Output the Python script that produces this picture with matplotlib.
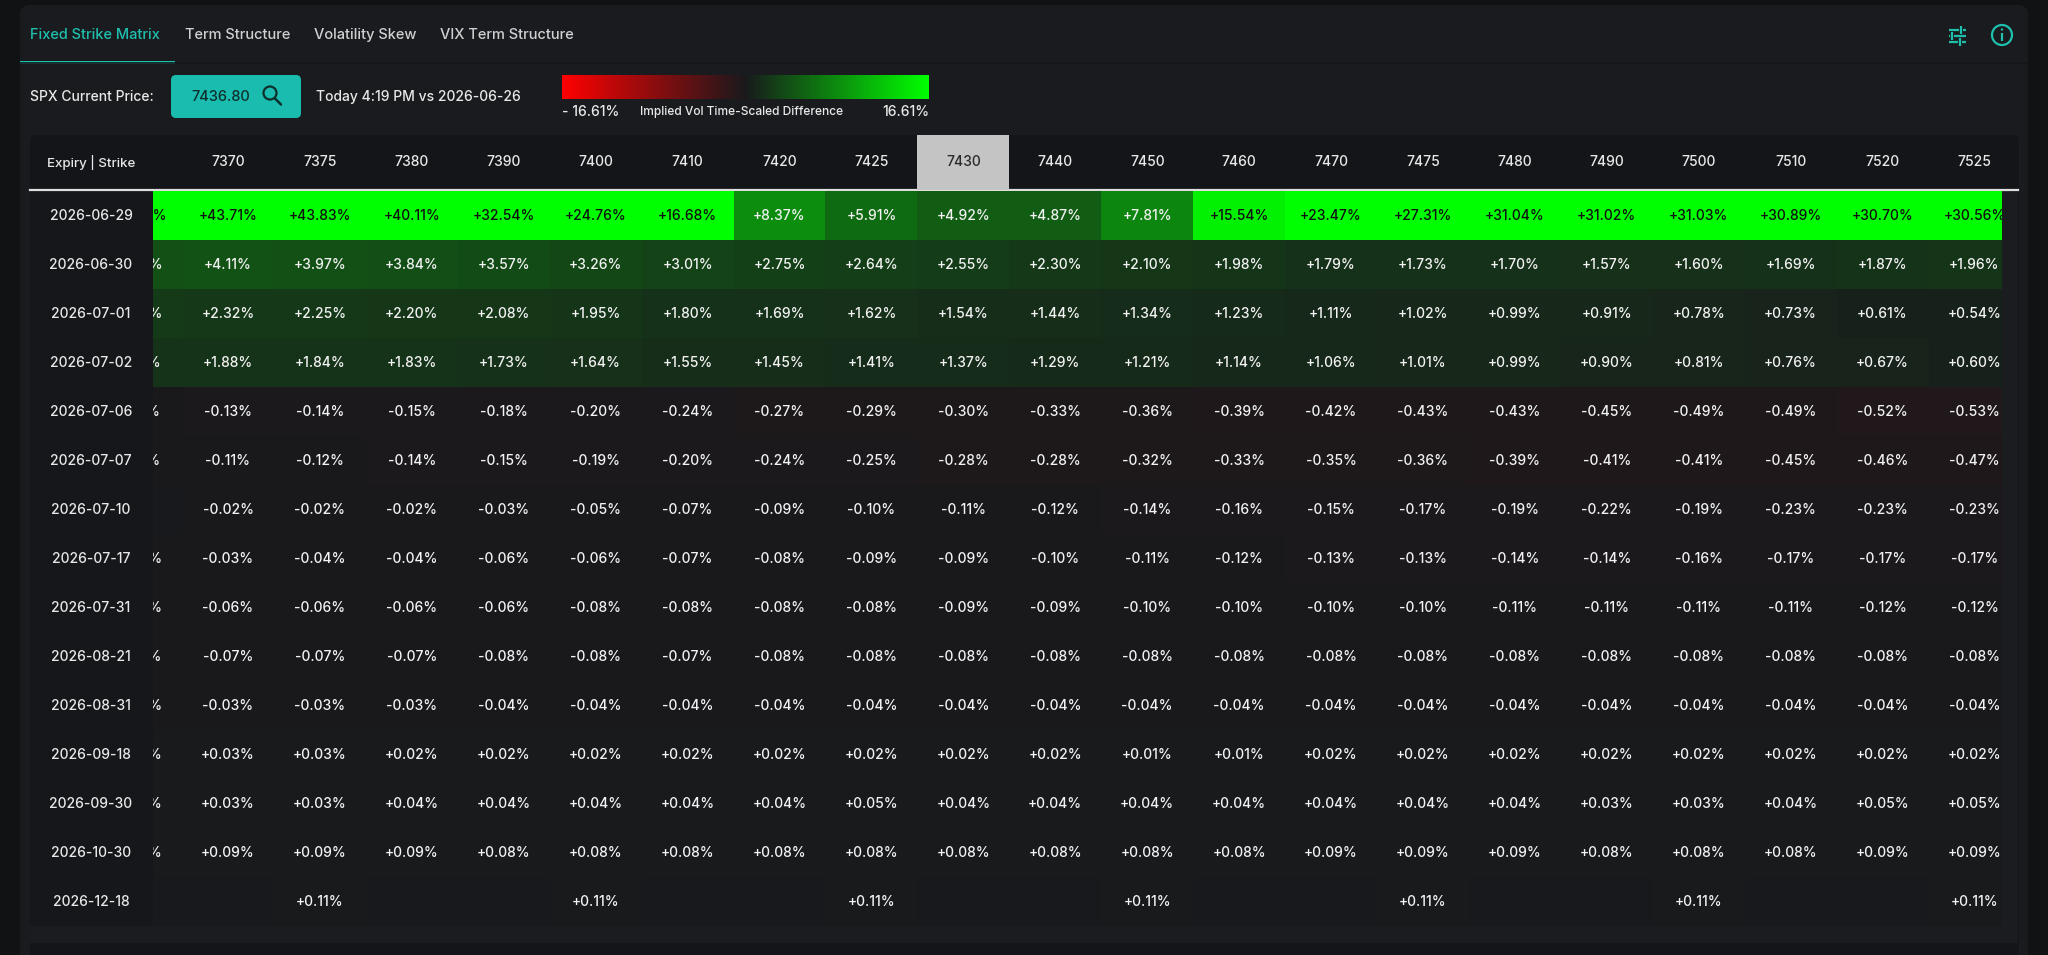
import matplotlib
matplotlib.use("Agg")
import matplotlib.pyplot as plt
import matplotlib.colorbar as mcolorbar
import matplotlib.transforms as mtransforms
import numpy as np
from matplotlib.colors import LinearSegmentedColormap, Normalize
from matplotlib.patches import FancyBboxPatch, Rectangle, Circle

plt.rcParams["font.family"] = ["Inter", "DejaVu Sans"]
plt.rcParams["font.weight"] = 500

W, H = 2048, 955

TABS = ["Fixed Strike Matrix", "Term Structure", "Volatility Skew", "VIX Term Structure"]
SPX_PRICE = "7436.80"
COMPARE_TEXT = "Today 4:19 PM vs 2026-06-26"
SCALE_MAX = 16.61
ATM_STRIKE = 7430

# first strike is scrolled almost out of view behind the sticky expiry column
STRIKES = [7365, 7370, 7375, 7380, 7390, 7400, 7410, 7420, 7425, 7430, 7440,
           7450, 7460, 7470, 7475, 7480, 7490, 7500, 7510, 7520, 7525]

EXPIRIES = ["2026-06-29", "2026-06-30", "2026-07-01", "2026-07-02", "2026-07-06",
            "2026-07-07", "2026-07-10", "2026-07-17", "2026-07-31", "2026-08-21",
            "2026-08-31", "2026-09-18", "2026-09-30", "2026-10-30", "2026-12-18"]

nan = np.nan
d_0629 = [43.53, 43.71, 43.83, 40.11, 32.54, 24.76, 16.68, 8.37, 5.91, 4.92, 4.87,
          7.81, 15.54, 23.47, 27.31, 31.04, 31.02, 31.03, 30.89, 30.70, 30.56]
d_0630 = [3.90, 4.11, 3.97, 3.84, 3.57, 3.26, 3.01, 2.75, 2.64, 2.55, 2.30,
          2.10, 1.98, 1.79, 1.73, 1.70, 1.57, 1.60, 1.69, 1.87, 1.96]
d_0701 = [2.36, 2.32, 2.25, 2.20, 2.08, 1.95, 1.80, 1.69, 1.62, 1.54, 1.44,
          1.34, 1.23, 1.11, 1.02, 0.99, 0.91, 0.78, 0.73, 0.61, 0.54]
d_0702 = [1.90, 1.88, 1.84, 1.83, 1.73, 1.64, 1.55, 1.45, 1.41, 1.37, 1.29,
          1.21, 1.14, 1.06, 1.01, 0.99, 0.90, 0.81, 0.76, 0.67, 0.60]
d_0706 = [-0.12, -0.13, -0.14, -0.15, -0.18, -0.20, -0.24, -0.27, -0.29, -0.30, -0.33,
          -0.36, -0.39, -0.42, -0.43, -0.43, -0.45, -0.49, -0.49, -0.52, -0.53]
d_0707 = [-0.10, -0.11, -0.12, -0.14, -0.15, -0.19, -0.20, -0.24, -0.25, -0.28, -0.28,
          -0.32, -0.33, -0.35, -0.36, -0.39, -0.41, -0.41, -0.45, -0.46, -0.47]
d_0710 = [nan, -0.02, -0.02, -0.02, -0.03, -0.05, -0.07, -0.09, -0.10, -0.11, -0.12,
          -0.14, -0.16, -0.15, -0.17, -0.19, -0.22, -0.19, -0.23, -0.23, -0.23]
d_0717 = [-0.03, -0.03, -0.04, -0.04, -0.06, -0.06, -0.07, -0.08, -0.09, -0.09, -0.10,
          -0.11, -0.12, -0.13, -0.13, -0.14, -0.14, -0.16, -0.17, -0.17, -0.17]
d_0731 = [-0.05, -0.06, -0.06, -0.06, -0.06, -0.08, -0.08, -0.08, -0.08, -0.09, -0.09,
          -0.10, -0.10, -0.10, -0.10, -0.11, -0.11, -0.11, -0.11, -0.12, -0.12]
d_0821 = [-0.07, -0.07, -0.07, -0.07, -0.08, -0.08, -0.07, -0.08, -0.08, -0.08, -0.08,
          -0.08, -0.08, -0.08, -0.08, -0.08, -0.08, -0.08, -0.08, -0.08, -0.08]
d_0831 = [-0.03, -0.03, -0.03, -0.03, -0.04, -0.04, -0.04, -0.04, -0.04, -0.04, -0.04,
          -0.04, -0.04, -0.04, -0.04, -0.04, -0.04, -0.04, -0.04, -0.04, -0.04]
d_0918 = [0.03, 0.03, 0.03, 0.02, 0.02, 0.02, 0.02, 0.02, 0.02, 0.02, 0.02,
          0.01, 0.01, 0.02, 0.02, 0.02, 0.02, 0.02, 0.02, 0.02, 0.02]
d_0930 = [0.03, 0.03, 0.03, 0.04, 0.04, 0.04, 0.04, 0.04, 0.05, 0.04, 0.04,
          0.04, 0.04, 0.04, 0.04, 0.04, 0.03, 0.03, 0.04, 0.05, 0.05]
d_1030 = [0.09, 0.09, 0.09, 0.09, 0.08, 0.08, 0.08, 0.08, 0.08, 0.08, 0.08,
          0.08, 0.08, 0.09, 0.09, 0.09, 0.08, 0.08, 0.08, 0.09, 0.09]
d_1218 = [nan, nan, 0.11, nan, nan, 0.11, nan, nan, 0.11, nan, nan,
          0.11, nan, nan, 0.11, nan, nan, 0.11, nan, nan, 0.11]

ROWS = [d_0629, d_0630, d_0701, d_0702, d_0706, d_0707, d_0710, d_0717,
        d_0731, d_0821, d_0831, d_0918, d_0930, d_1030, d_1218]

OUTER = "#111214"
PANEL = "#1a1b1e"
TABLE_BG = "#141518"
BODY_BG = "#18191c"
STICKY_BG = "#16171a"
TEAL = "#1fbfae"
TEXT = "#e8e8e8"
MUTED = "#cfd0d2"

values = np.array(ROWS, dtype=float)
cmap = LinearSegmentedColormap.from_list("ivdiff", ["#ff0000", BODY_BG, "#00ff00"])
cmap.set_bad(BODY_BG)
norm = Normalize(-SCALE_MAX, SCALE_MAX, clip=True)

fig = plt.figure(figsize=(W / 100, H / 100), dpi=100, facecolor=OUTER)

# chrome layer in pixel coordinates
bg = fig.add_axes([0, 0, 1, 1])
bg.set_xlim(0, W)
bg.set_ylim(H, 0)
bg.axis("off")

bg.add_patch(FancyBboxPatch((20, 5), 2008, 970, boxstyle="round,pad=0,rounding_size=10",
                            fc=PANEL, ec="none"))
bg.plot([20, 2028], [63.5, 63.5], color="#141518", lw=1.2)

tab_x = [30, 185, 314, 440]
for i, (label, x) in enumerate(zip(TABS, tab_x)):
    bg.text(x, 35, label, color=TEAL if i == 0 else MUTED, fontsize=10.5,
            ha="left", va="center")
bg.add_patch(Rectangle((20, 61), 155, 3, fc=TEAL, ec="none"))

# sliders icon
for yy, knob in [(30, 1961), (36, 1952), (42, 1960)]:
    bg.plot([1949, knob - 2], [yy, yy], color=TEAL, lw=1.6, solid_capstyle="butt")
    bg.plot([knob + 2, 1966], [yy, yy], color=TEAL, lw=1.6, solid_capstyle="butt")
    bg.plot([knob, knob], [yy - 4, yy + 4], color=TEAL, lw=1.6, solid_capstyle="butt")
# info icon
bg.add_patch(Circle((2002, 35), 10, fc="none", ec=TEAL, lw=1.6))
bg.plot([2002, 2002], [33, 41], color=TEAL, lw=1.6, solid_capstyle="butt")
bg.add_patch(Circle((2002, 29.5), 1.2, fc=TEAL, ec="none"))

# controls row
bg.text(30, 97, "SPX Current Price:", color=TEXT, fontsize=10, ha="left", va="center")
bg.add_patch(FancyBboxPatch((171, 75), 130, 43, boxstyle="round,pad=0,rounding_size=5",
                            fc="#19bcae", ec="none"))
bg.text(221, 97, SPX_PRICE, color="#0f2f2d", fontsize=10.5, ha="center", va="center")
bg.add_patch(Circle((270, 93), 6.5, fc="none", ec="#0f2f2d", lw=1.6))
bg.plot([275, 281], [98.5, 104.5], color="#0f2f2d", lw=1.8, solid_capstyle="round")
bg.text(316, 97, COMPARE_TEXT, color=TEXT, fontsize=10, ha="left", va="center")

cax = fig.add_axes([562 / W, 1 - 99 / H, 367 / W, 24 / H])
cb = mcolorbar.ColorbarBase(cax, cmap=cmap, norm=norm, orientation="horizontal")
cb.outline.set_visible(False)
cax.set_xticks([])
cax.set_yticks([])
bg.text(562, 112, f"- {SCALE_MAX:.2f}%", color=TEXT, fontsize=10, ha="left", va="center")
bg.text(640, 112, "Implied Vol Time-Scaled Difference", color=TEXT, fontsize=8.6,
        ha="left", va="center")
bg.text(929, 112, f"{SCALE_MAX:.2f}%", color=TEXT, fontsize=10, ha="right", va="center")

# table container
bg.add_patch(FancyBboxPatch((30, 135), 1989, 830, boxstyle="round,pad=0,rounding_size=6",
                            fc=TABLE_BG, ec="none"))
bg.add_patch(Rectangle((30, 190), 123, 736, fc=STICKY_BG, ec="none"))
bg.add_patch(Rectangle((30, 926), 1988, 17, fc="#1b1c20", ec="none"))
bg.add_patch(Rectangle((2002, 190), 16, 753, fc="#1b1c20", ec="none"))
bg.text(91, 162.5, "Expiry | Strike", color=TEXT, fontsize=9.6, ha="center", va="center")
bg.plot([30, 2018], [190.5, 190.5], color="#dedede", lw=1.6)

# column geometry: column j centred on x=j, 91.92 px wide, strike 7370 at px 228
col_w = 91.92
x_left = (153 - (228 - col_w)) / col_w
x_right = (2002 - (228 - col_w)) / col_w
cols = np.arange(len(STRIKES))
rows = np.arange(len(EXPIRIES))

hdr = fig.add_axes([153 / W, 1 - 190 / H, 1849 / W, 55 / H])
hdr.set_xlim(x_left, x_right)
hdr.set_ylim(0, 1)
hdr.axis("off")
atm = STRIKES.index(ATM_STRIKE)
hdr.axvspan(atm - 0.5, atm + 0.5, color="#c4c4c4", lw=0)
for j, s in zip(cols, STRIKES):
    hdr.text(j, 0.5, str(s), color="#2a2a2a" if s == ATM_STRIKE else TEXT,
             fontsize=10, ha="center", va="center", clip_on=True)

tab = fig.add_axes([153 / W, 1 - 926 / H, 1849 / W, 735 / H])
tab.set_xlim(x_left, x_right)
tab.set_ylim(len(EXPIRIES) - 0.5, -0.5)
tab.axis("off")
tab.pcolormesh(np.arange(len(STRIKES) + 1) - 0.5, np.arange(len(EXPIRIES) + 1) - 0.5,
               np.ma.masked_invalid(values), cmap=cmap, norm=norm, shading="flat")
for i in rows:
    for j in cols:
        v = values[i, j]
        if np.isnan(v):
            continue
        dark = abs(v) / SCALE_MAX > 0.7
        tab.text(j, i, f"{v:+.2f}%", color="#111111" if dark else "#f2f2f2",
                 fontsize=10, ha="center", va="center", clip_on=True)

date_tr = mtransforms.blended_transform_factory(bg.transData, tab.transData)
for i, d in zip(rows, EXPIRIES):
    bg.text(91, i, d, transform=date_tr, color=TEXT, fontsize=10, ha="center", va="center")

fig.savefig("out.png", dpi=100, facecolor=OUTER)
